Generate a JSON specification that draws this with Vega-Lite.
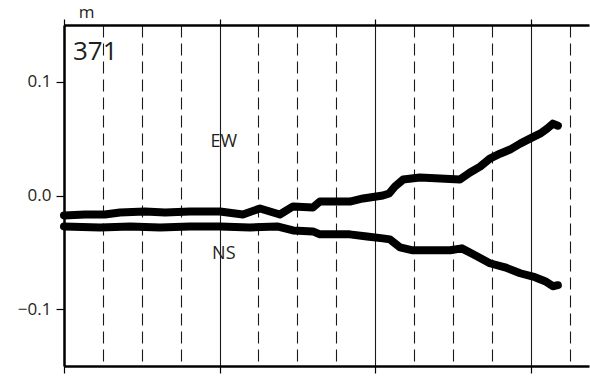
{
  "$schema": "https://vega.github.io/schema/vega-lite/v6.json",
  "width": 525,
  "height": 341,
  "autosize": {"type": "none"},
  "padding": {"left": 64, "top": 25, "right": 1, "bottom": 10},
  "config": {"view": {"stroke": null}, "font": "Open Sans"},
  "datasets": {
    "series": [
      {"component": "EW", "t": 0, "v": -0.0175},
      {"component": "EW", "t": 0.54, "v": -0.0167},
      {"component": "EW", "t": 1.05, "v": -0.0167},
      {"component": "EW", "t": 1.44, "v": -0.0149},
      {"component": "EW", "t": 2.08, "v": -0.014},
      {"component": "EW", "t": 2.6, "v": -0.0149},
      {"component": "EW", "t": 3.24, "v": -0.014},
      {"component": "EW", "t": 4.01, "v": -0.014},
      {"component": "EW", "t": 4.6, "v": -0.0167},
      {"component": "EW", "t": 5.04, "v": -0.0114},
      {"component": "EW", "t": 5.55, "v": -0.0167},
      {"component": "EW", "t": 5.89, "v": -0.0096},
      {"component": "EW", "t": 6.4, "v": -0.0105},
      {"component": "EW", "t": 6.58, "v": -0.0053},
      {"component": "EW", "t": 7.35, "v": -0.0053},
      {"component": "EW", "t": 7.69, "v": -0.0026},
      {"component": "EW", "t": 8.2, "v": 0.0},
      {"component": "EW", "t": 8.36, "v": 0.0018},
      {"component": "EW", "t": 8.51, "v": 0.0079},
      {"component": "EW", "t": 8.72, "v": 0.014},
      {"component": "EW", "t": 9.15, "v": 0.0158},
      {"component": "EW", "t": 9.67, "v": 0.0149},
      {"component": "EW", "t": 10.18, "v": 0.014},
      {"component": "EW", "t": 10.44, "v": 0.0202},
      {"component": "EW", "t": 10.7, "v": 0.0254},
      {"component": "EW", "t": 10.95, "v": 0.0325},
      {"component": "EW", "t": 11.21, "v": 0.0368},
      {"component": "EW", "t": 11.47, "v": 0.0404},
      {"component": "EW", "t": 11.73, "v": 0.0456},
      {"component": "EW", "t": 11.98, "v": 0.05},
      {"component": "EW", "t": 12.24, "v": 0.0544},
      {"component": "EW", "t": 12.42, "v": 0.0588},
      {"component": "EW", "t": 12.57, "v": 0.0632},
      {"component": "EW", "t": 12.7, "v": 0.0614},
      {"component": "NS", "t": 0, "v": -0.0272},
      {"component": "NS", "t": 0.93, "v": -0.0281},
      {"component": "NS", "t": 1.7, "v": -0.0272},
      {"component": "NS", "t": 2.47, "v": -0.0281},
      {"component": "NS", "t": 3.24, "v": -0.0272},
      {"component": "NS", "t": 4.01, "v": -0.0272},
      {"component": "NS", "t": 4.78, "v": -0.0281},
      {"component": "NS", "t": 5.48, "v": -0.0272},
      {"component": "NS", "t": 5.89, "v": -0.0307},
      {"component": "NS", "t": 6.4, "v": -0.0316},
      {"component": "NS", "t": 6.58, "v": -0.0342},
      {"component": "NS", "t": 7.35, "v": -0.0342},
      {"component": "NS", "t": 7.79, "v": -0.036},
      {"component": "NS", "t": 8.2, "v": -0.0377},
      {"component": "NS", "t": 8.38, "v": -0.0386},
      {"component": "NS", "t": 8.64, "v": -0.0456},
      {"component": "NS", "t": 8.97, "v": -0.0482},
      {"component": "NS", "t": 9.41, "v": -0.0482},
      {"component": "NS", "t": 9.93, "v": -0.0482},
      {"component": "NS", "t": 10.23, "v": -0.0465},
      {"component": "NS", "t": 10.57, "v": -0.0526},
      {"component": "NS", "t": 10.95, "v": -0.0596},
      {"component": "NS", "t": 11.34, "v": -0.0632},
      {"component": "NS", "t": 11.73, "v": -0.0684},
      {"component": "NS", "t": 12.11, "v": -0.0719},
      {"component": "NS", "t": 12.37, "v": -0.0754},
      {"component": "NS", "t": 12.57, "v": -0.0798},
      {"component": "NS", "t": 12.7, "v": -0.0789}
    ],
    "station": [{"t": 0.23, "v": 0.119, "label": "371"}],
    "unit": [{"t": 0.38, "v": 0.1561, "label": "m"}],
    "names": [
      {"t": 4.11, "v": 0.043, "label": "EW"},
      {"t": 4.11, "v": -0.056, "label": "NS"}
    ]
  },
  "resolve": {"axis": {"x": "independent"}},
  "layer": [
    {
      "data": {"name": "series"},
      "mark": {"type": "line", "color": "black", "strokeWidth": 8, "strokeCap": "round", "strokeJoin": "round"},
      "encoding": {
        "x": {
          "field": "t", "type": "quantitative",
          "scale": {"domain": [0, 13.5], "nice": false, "zero": false},
          "axis": {
            "orient": "bottom",
            "values": [0, 1, 2, 3, 4, 5, 6, 7, 8, 9, 10, 11, 12, 13],
            "labels": false,
            "title": null,
            "grid": true,
            "gridColor": "#1a1a1a",
            "gridWidth": 1.1,
            "gridDash": {"condition": {"test": "datum.value % 4 === 0", "value": []}, "value": [12, 6]},
            "ticks": true,
            "tickColor": "black",
            "tickWidth": 1.2,
            "tickSize": 7,
            "tickOpacity": {"condition": {"test": "datum.value % 4 === 0", "value": 1}, "value": 0},
            "domainColor": "black",
            "domainWidth": 2.5
          }
        },
        "y": {
          "field": "v", "type": "quantitative",
          "scale": {"domain": [-0.15, 0.15], "nice": false, "zero": false},
          "axis": {
            "values": [-0.1, 0, 0.1],
            "format": ".1f",
            "grid": false,
            "labelFontSize": 17,
            "labelColor": "#231f20",
            "labelPadding": 5,
            "tickSize": 8,
            "tickWidth": 1.2,
            "tickColor": "black",
            "domainColor": "black",
            "domainWidth": 2.5,
            "title": null
          }
        },
        "detail": {"field": "component", "type": "nominal"}
      }
    },
    {
      "data": {"name": "station"},
      "mark": {"type": "text", "fontSize": 26, "align": "left", "baseline": "alphabetic", "color": "#231f20"},
      "encoding": {
        "x": {
          "field": "t", "type": "quantitative",
          "axis": {
            "orient": "top",
            "values": [0, 4, 8, 12],
            "labels": false,
            "title": null,
            "grid": false,
            "ticks": true,
            "tickSize": 6,
            "tickWidth": 1.2,
            "tickColor": "black",
            "domainColor": "black",
            "domainWidth": 2.5
          }
        },
        "y": {"field": "v", "type": "quantitative"},
        "text": {"field": "label"}
      }
    },
    {
      "data": {"name": "unit"},
      "mark": {"type": "text", "fontSize": 17, "align": "left", "baseline": "alphabetic", "color": "#231f20"},
      "encoding": {
        "x": {"field": "t", "type": "quantitative", "axis": null},
        "y": {"field": "v", "type": "quantitative"},
        "text": {"field": "label"}
      }
    },
    {
      "data": {"name": "names"},
      "mark": {"type": "text", "fontSize": 18, "align": "center", "baseline": "alphabetic", "color": "#231f20"},
      "encoding": {
        "x": {"field": "t", "type": "quantitative", "axis": null},
        "y": {"field": "v", "type": "quantitative"},
        "text": {"field": "label"}
      }
    }
  ]
}
